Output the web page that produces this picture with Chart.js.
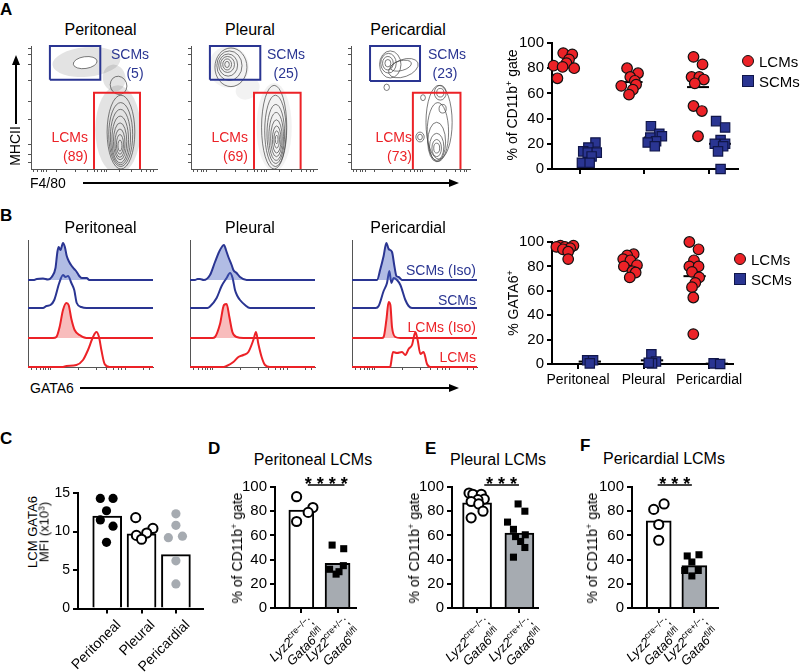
<!DOCTYPE html>
<html>
<head>
<meta charset="utf-8">
<script src="https://cdn.jsdelivr.net/npm/chart.js@4.4.1/dist/chart.umd.min.js"></script>
<style>
body { margin: 0; background: #fff; }
#fig { position: relative; width: 800px; height: 672px; overflow: hidden; background: #fff;
       font-family: "Liberation Sans", Arial, Helvetica, sans-serif; color: #000; }
#fig canvas { position: absolute; }
.t { position: absolute; white-space: nowrap; line-height: 1; }
.t sup { font-size: 65%; vertical-align: 0.5em; line-height: 0; }
.geno { position: absolute; white-space: nowrap; line-height: 15px; font-size: 13px; text-align: right;
        transform-origin: 100% 0; transform: translate(-100%, 0) rotate(-45deg); }
.geno sup { font-size: 9px; vertical-align: 5px; line-height: 0; }
.rot45 { position: absolute; white-space: nowrap; line-height: 1; font-size: 14px;
         transform-origin: 100% 0; transform: translate(-100%, 0) rotate(-45deg); }
.ln { position: absolute; background: #000; }
</style>
</head>
<body>
<div id="fig"></div>
<script>
// ---- données ----
const sites = ['Peritoneal', 'Pleural', 'Pericardial'];

// A : portes (% des CD11b+)
const gateScm = [5, 25, 23];
const gateLcm = [89, 69, 73];

// A : nuage de points, % of CD11b+ gate
const aLcmPerit = [92, 91, 87, 84, 82, 81, 80, 72];
const aLcmPeritX = [0.74, 0.88, 0.83, 0.79, 0.59, 0.73, 0.91, 0.65];
const aLcmPleu = [80, 76, 73, 70, 67, 66, 63, 59];
const aLcmPleuX = [1.73, 1.9, 1.78, 1.85, 1.87, 1.64, 1.82, 1.76];
const aLcmPeri = [89, 83, 73, 73, 71, 68, 50, 46, 26];
const aLcmPeriX = [2.76, 2.9, 2.73, 2.85, 2.92, 2.78, 2.76, 2.89, 2.83];
const aScmPerit = [21, 17, 14, 13, 13, 10, 5, 5];
const aScmPeritX = [1.24, 1.13, 1.05, 1.12, 1.26, 1.18, 1.03, 1.15];
const aScmPleu = [34, 28, 26, 25, 22, 21, 18];
const aScmPleuX = [2.1, 2.23, 2.27, 2.09, 2.18, 2.05, 2.16];
const aScmPeri = [38, 33, 23, 20, 20, 18, 14, 0];
const aScmPeriX = [3.11, 3.25, 3.18, 3.09, 3.25, 3.22, 3.14, 3.18];
const aLcmMean = [83, 69, 65];
const aScmMean = [12, 25, 20];

// B : % GATA6+
const bLcmPerit = [97, 97, 96, 96, 95, 94, 92, 86];
const bLcmPeritX = [0.73, 0.93, 0.8, 0.67, 0.88, 0.77, 0.85, 0.85];
const bLcmPleu = [90, 89, 86, 85, 81, 80, 76, 75, 71];
const bLcmPleuX = [1.85, 1.75, 1.69, 1.8, 1.9, 1.7, 1.83, 1.88, 1.79];
const bLcmPeri = [100, 94, 85, 80, 80, 75.5, 71, 66.5, 63, 54.5, 24.5];
const bLcmPeriX = [2.7, 2.84, 2.77, 2.7, 2.84, 2.74, 2.85, 2.79, 2.74, 2.76, 2.76];
const bScmPerit = [3, 3, 0.5];
const bScmPeritX = [1.14, 1.23, 1.18];
const bScmPleu = [8, 2, 0.5, 1];
const bScmPleuX = [2.12, 2.19, 2.13, 2.08];
const bScmPeri = [0.5, 0];
const bScmPeriX = [3.07, 3.17];
const bLcmMean = [94, 81, 72];
const bScmMean = [2, 3, 0.3];

// B : histogrammes GATA6 [intensité, hauteur]
const hPeritScmIso = [[0,0],[5,0],[7,1],[12,1.5],[16,0.5],[19,3],[22,12],[23.5,28],[24.5,33],[26,30],[28,37],[29.5,33],[31,24],[33,18],[35,14],[37,11],[39,8],[41,4],[43,2],[47,2],[49,0],[100,0]];
const hPeritScm = [[0,0],[12,0],[14.7,2],[18,3],[21,8],[25,25],[28,33],[30,31],[32,32],[34.7,25],[37,18],[39,5],[42.7,1],[46.7,0],[100,0]];
const hPeritLcmIso = [[0,0],[20,0],[22.7,1],[25.3,11],[28,28],[30.7,35],[32.5,33],[34.7,19],[37.3,8],[41.3,3],[46.7,0],[100,0]];
const hPeritLcm = [[0,0],[28,0],[30.7,1],[38.7,2],[44,7],[48,17],[52,30],[54.7,35],[56.8,30],[58.7,17],[61.3,3],[65.3,0],[100,0]];
const hPleuScmIso = [[0,0],[4,0],[6,1],[8,1],[11,0],[16,5],[20,18],[24,30],[27.2,35],[28.8,30],[30.7,23],[33.3,15],[34.7,10],[37.3,7],[40,3],[45.3,0],[100,0]];
const hPleuScm = [[0,0],[14,0],[16,1.5],[21.3,10],[25.3,22],[29.3,30],[32,35],[34.1,30],[36,18],[37.9,12],[40,8],[44,3],[48,0],[100,0]];
const hPleuLcmIso = [[0,0],[18,0],[20,1],[24,14],[27.2,33],[29.3,34],[31.5,21],[33.9,6],[37.3,1],[42.7,0],[100,0]];
const hPleuLcm = [[0,0],[27,0],[29.3,1],[34.7,5],[38.7,10],[42.7,12],[46.7,15],[50.7,27],[52.8,35],[54.7,23],[57.3,10],[60,2],[64,0],[100,0]];
const hPeriScmIso = [[0,0],[20,0],[22.7,11],[25.3,24],[27.5,37],[29.3,31],[32,28],[33.9,14],[35.5,4],[37.3,3],[40,0],[100,0]];
const hPeriScm = [[0,0],[19,0],[21.3,2],[25.3,17],[28,25],[29.9,37],[31.5,25],[33.3,30],[36,28],[38.7,23],[42.7,8],[45.3,2],[48,0],[100,0]];
const hPeriLcmIso = [[0,0],[24,0],[25.3,1],[27.5,18],[29.3,36],[30.7,33],[32,11],[34.7,1],[38.7,0],[100,0]];
const hPeriLcm = [[0,0],[30,0],[30.7,0.7],[32.8,15],[36,14],[40,15],[42.7,12],[45.3,18],[48,22],[50.7,35],[52.5,27],[54.7,13],[57.3,15],[60,3],[62.7,0],[100,0]];

// C : LCM GATA6 MFI (x10^3)
const cMean = [12, 9.7, 7];
const cPerit = [14.3, 14.3, 12.7, 11.5, 10.7, 8.6];
const cPeritX = [0.8, 1.17, 0.98, 0.8, 1.17, 0.98];
const cPleu = [11.8, 10.4, 9.8, 9.5, 9.0];
const cPleuX = [1.83, 2.33, 2.15, 1.85, 2.0];
const cPeri = [12.3, 10.8, 9.4, 9.2, 6.2, 3.2];
const cPeriX = [3.0, 3.0, 3.19, 2.78, 3.0, 3.0];

// D, E, F : % of CD11b+ gate (Lyz2cre-/- vs Lyz2cre+/-)
const dMean = [81, 37];
const dWt = [92, 83, 79, 71.5];
const dWtX = [0.87, 1.32, 1.19, 0.87];
const dKo = [52, 49, 35, 32, 30, 28];
const dKoX = [1.85, 2.17, 2.16, 1.78, 2.04, 1.96];
const eMean = [87, 62];
const eWt = [95, 94, 94, 90, 89.5, 88, 86, 80, 74.5];
const eWtX = [0.81, 0.9, 1.1, 1.17, 1.02, 0.86, 1.04, 1.14, 0.86];
const eKo = [86, 80, 71, 65, 60.5, 59, 55, 50, 42];
const eKoX = [1.97, 2.13, 1.72, 1.86, 2.14, 1.91, 2.03, 2.13, 1.86];
const fMean = [72, 35];
const fWt = [86, 81.5, 69, 56];
const fWtX = [1.15, 0.86, 1.0, 1.0];
const fKo = [44, 43, 38, 31, 31, 26.5];
const fKoX = [2.13, 1.8, 1.93, 1.73, 2.11, 1.93];

// graduations
const pctTicks = [0, 20, 40, 60, 80, 100];
const mfiTicks = [0, 5, 10, 15];
const flowXTicks = [2, 5, 8, 10, 12, 20, 35, 45, 50, 53, 56, 58, 60, 70, 80, 88, 92, 95, 97];
const flowYTicks = [5, 12, 20, 40, 55, 72, 85, 93, 98];
const histXTicks = [3, 7, 10, 12, 14, 16, 18, 40, 55, 63, 68, 72, 75, 78, 92, 97];

// contours des cytogrammes [cx, cy, rx, ry, rotation]
const flowCloudsPerit = [[44, 87, 27, 12, -5], [66, 74, 9, 11, -10], [69, 32, 18, 36, 0]];
const flowWhitePerit = [[43, 86.5, 9.5, 4.8, -8]];
const flowRingsPerit = [[69.5, 68, 6.5, 7.5, -20], [71.4, 30, 11, 30, 0], [71.2, 28, 9.5, 26, 0], [71, 26, 8, 22.5, 0],
  [70.8, 24, 6.6, 19, 0], [70.7, 22.5, 5.3, 15, 0], [70.6, 21, 4, 11.5, 0], [70.6, 20, 2.8, 8, 0], [70.6, 19, 1.6, 4.5, 0]];
const flowCloudsPleu = [[30, 83, 16, 17, 0], [66, 34, 14, 36, 0], [45, 65, 10, 8, -30]];
const flowRingsPleu = [[31.7, 82.7, 12.7, 15.7, 0], [30.5, 84, 10, 12, 0], [29.5, 84.5, 7.5, 9, 0], [29, 85, 5.5, 6.5, 0],
  [28.7, 85, 3.5, 4.5, 0], [28.6, 85, 1.8, 2.5, 0], [66, 34, 10, 34, 0], [67, 31, 8.5, 29, 0], [67.3, 28.5, 7, 24, 0],
  [67.6, 26.5, 5.8, 19.5, 0], [67.8, 25, 4.6, 15, 0], [68, 24, 3.4, 11, 0], [68, 24, 2.2, 7, 0], [68, 24, 1.1, 3.5, 0]];
const flowRingsPeri = [[33, 85, 9, 11, 0], [31.5, 86, 6.5, 8, 0], [31, 86, 4.5, 5.5, 0], [31, 86, 2.5, 3, 0],
  [44, 82, 13, 7, -20], [42, 84, 9, 4, -15], [30, 66.4, 2.3, 2.6, 0], [60.5, 58, 2, 2.4, 0],
  [74, 38, 11, 30, 0], [73, 30, 9, 24, 0], [72, 22, 7.5, 16, 0], [72, 18, 6, 11, 0], [72, 17, 4, 7, 0], [72, 17, 2.5, 4, 0],
  [75, 62, 5, 6, 0], [75, 62, 3, 3.5, 0], [77, 49, 3, 3.5, 0], [58, 26, 3.5, 4, 0], [58, 26, 2, 2.3, 0]];
// portes [x1, x2, y1, y2]
const gateBoxScm = [[15, 55, 72.5, 100], [15, 55, 72.5, 100], [16, 58, 71.5, 100]];
const gateBoxLcm = [[50, 86.5, 0, 62], [50, 87, 0, 62], [52, 92, 0, 62]];

// ---- mise en page ----
const FONT = '"Liberation Sans", Arial, Helvetica, sans-serif';
const BLUE = '#2a3592';
const RED = '#ec2227';
const GREY = '#a6abb1';
Chart.defaults.font.family = FONT;
Chart.defaults.color = '#000';
const fig = document.getElementById('fig');

function txt(x, y, html, o = {}) {
    const d = document.createElement('div');
    d.className = 't';
    d.innerHTML = html;
    d.style.left = x + 'px';
    d.style.top = y + 'px';
    d.style.fontSize = (o.size || 14) + 'px';
    if (o.color) d.style.color = o.color;
    if (o.bold) d.style.fontWeight = 'bold';
    const ax = o.align === 'left' ? '0' : o.align === 'right' ? '-100%' : '-50%';
    d.style.transform = `translate(${ax},-50%)` + (o.rot ? ` rotate(${o.rot}deg)` : '');
    fig.appendChild(d);
}

function box(x, y, w, h) {
    const d = document.createElement('div');
    d.className = 'ln';
    Object.assign(d.style, { left: x + 'px', top: y + 'px', width: w + 'px', height: h + 'px' });
    fig.appendChild(d);
    return d;
}

function arrowRight(x1, x2, y) {
    box(x1, y - 1, x2 - x1 - 8, 2);
    const h = box(x2 - 10, y - 4.5, 0, 0);
    Object.assign(h.style, { background: 'none', borderTop: '4.5px solid transparent', borderBottom: '4.5px solid transparent', borderLeft: '10px solid #000' });
}

function arrowUp(x, y1, y2) {
    box(x - 1, y2 + 8, 2, y1 - y2 - 8);
    const h = box(x - 4.5, y2, 0, 0);
    Object.assign(h.style, { background: 'none', borderLeft: '4.5px solid transparent', borderRight: '4.5px solid transparent', borderBottom: '10px solid #000' });
}

function chartAt(pos, area, config) {
    const [L, T, W, H] = pos;
    const cv = document.createElement('canvas');
    cv.width = W; cv.height = H;
    cv.style.left = L + 'px';
    cv.style.top = T + 'px';
    fig.appendChild(cv);
    const o = config.options;
    o.responsive = false;
    o.animation = false;
    o.layout = { padding: { left: 0, top: area[1] - T, right: L + W - area[2], bottom: 0 } };
    o.scales.x.afterFit = s => { s.height = T + H - area[3]; };
    o.scales.y.afterFit = s => { s.width = area[0] - L; };
    o.plugins = Object.assign({ legend: { display: false }, tooltip: { enabled: false } }, o.plugins || {});
    return new Chart(cv, config);
}

function ellipse(ctx, x, y, e) {
    const cx = x.getPixelForValue(e[0]), cy = y.getPixelForValue(e[1]);
    const rx = Math.abs(x.getPixelForValue(e[0] + e[2]) - cx);
    const ry = Math.abs(y.getPixelForValue(e[1] + e[3]) - cy);
    ctx.beginPath();
    ctx.ellipse(cx, cy, rx, ry, (e[4] || 0) * Math.PI / 180, 0, 2 * Math.PI);
}

// contours des cytogrammes
const flowPlugin = {
    id: 'flow',
    beforeDatasetsDraw(chart, args, o) {
        const { ctx, chartArea: a, scales: { x, y } } = chart;
        ctx.save();
        ctx.beginPath();
        ctx.rect(a.left, a.top, a.right - a.left, a.bottom - a.top);
        ctx.clip();
        ctx.fillStyle = o.cloudColor;
        (o.clouds || []).forEach(e => { ellipse(ctx, x, y, e); ctx.fill(); });
        ctx.strokeStyle = '#444';
        ctx.lineWidth = 0.7;
        (o.whites || []).forEach(e => { ellipse(ctx, x, y, e); ctx.fillStyle = '#fff'; ctx.fill(); ctx.stroke(); });
        (o.rings || []).forEach(e => { ellipse(ctx, x, y, e); ctx.stroke(); });
        ctx.restore();
    }
};

// traits de moyenne
const meanPlugin = {
    id: 'means',
    beforeDatasetsDraw(chart, args, o) {
        const { ctx, scales: { x, y } } = chart;
        ctx.save();
        ctx.strokeStyle = '#000';
        ctx.lineWidth = 2;
        o.items.forEach(m => {
            const py = y.getPixelForValue(m.y);
            ctx.beginPath();
            ctx.moveTo(x.getPixelForValue(m.x - 0.17), py);
            ctx.lineTo(x.getPixelForValue(m.x + 0.17), py);
            ctx.stroke();
        });
        ctx.restore();
    }
};

// barre de significativité
const sigPlugin = {
    id: 'sig',
    afterDraw(chart, args, o) {
        const { ctx, scales: { x, y } } = chart;
        const py = y.getPixelForValue(o.y);
        const x1 = x.getPixelForValue(o.x1), x2 = x.getPixelForValue(o.x2);
        ctx.save();
        ctx.strokeStyle = '#000';
        ctx.lineWidth = 1.5;
        ctx.beginPath();
        ctx.moveTo(x1, py);
        ctx.lineTo(x2, py);
        ctx.stroke();
        ctx.font = 'bold 18px ' + FONT;
        ctx.fillStyle = '#000';
        ctx.textAlign = 'center';
        ctx.fillText(o.stars, (x1 + x2) / 2, py + 5);
        ctx.restore();
    }
};

function thinAxis(ticks, tickLen) {
    return {
        type: 'linear', min: 0, max: 100,
        afterBuildTicks: s => { s.ticks = ticks.map(v => ({ value: v })); },
        ticks: { display: false },
        grid: { drawOnChartArea: false, drawTicks: tickLen > 0, tickLength: tickLen, color: '#555', lineWidth: 1 },
        border: { color: '#555', width: 1 }
    };
}

function boldAxis(min, max, ticks, labels, size) {
    return {
        type: 'linear', min: min, max: max, offset: false,
        afterBuildTicks: s => { s.ticks = ticks.map(v => ({ value: v })); },
        ticks: {
            font: { size: size }, color: '#000', padding: 3, autoSkip: false, maxRotation: 0,
            callback: (v, i) => labels ? labels[i] : v
        },
        grid: { drawOnChartArea: false, offset: false, tickLength: 5, color: '#000', lineWidth: 2 },
        border: { color: '#000', width: 2 }
    };
}

function pts(vals, xs) { return vals.map((v, i) => ({ x: xs[i], y: v })); }

// ---- A : cytogrammes ----
const flowBoxes = [[20, 40, 145, 135], [180, 40, 145, 135], [340, 40, 140, 135]];
const flowAreas = [[31, 46, 157, 169], [191, 46, 317, 169], [351, 46, 470, 169]];
const flowShapes = [
    { clouds: flowCloudsPerit, whites: flowWhitePerit, rings: flowRingsPerit, cloudColor: 'rgba(0,0,0,0.11)' },
    { clouds: flowCloudsPleu, whites: [], rings: flowRingsPleu, cloudColor: 'rgba(0,0,0,0.05)' },
    { clouds: [], whites: [], rings: flowRingsPeri, cloudColor: 'rgba(0,0,0,0)' }
];
sites.forEach((s, k) => {
    const gs = gateBoxScm[k], gl = gateBoxLcm[k];
    chartAt(flowBoxes[k], flowAreas[k], {
        type: 'scatter',
        data: {
            datasets: [
                { data: [{ x: gs[0], y: gs[2] }, { x: gs[0], y: gs[3] }, { x: gs[1], y: gs[3] }, { x: gs[1], y: gs[2] }, { x: gs[0], y: gs[2] }],
                  showLine: true, borderColor: BLUE, borderWidth: 2, pointRadius: 0, clip: false, tension: 0 },
                { data: [{ x: gl[0], y: gl[2] }, { x: gl[0], y: gl[3] }, { x: gl[1], y: gl[3] }, { x: gl[1], y: gl[2] }],
                  showLine: true, borderColor: RED, borderWidth: 2, pointRadius: 0, clip: false, tension: 0 }
            ]
        },
        options: {
            scales: { x: thinAxis(flowXTicks, 3), y: thinAxis(flowYTicks, 3) },
            plugins: { flow: flowShapes[k] }
        },
        plugins: [flowPlugin]
    });
});

// ---- A et B : nuages de points ----
function dotChart(pos, area, xr, lcm, scm, lcmMean, scmMean, labels, lcmC, scmC) {
    chartAt(pos, area, {
        type: 'scatter',
        data: {
            datasets: [
                { data: lcm, pointStyle: 'circle', pointRadius: 5.3, backgroundColor: RED, borderColor: '#111', borderWidth: 1.2, clip: false },
                { data: scm, pointStyle: 'rect', pointRadius: 6.6, backgroundColor: BLUE, borderColor: '#10164a', borderWidth: 1.2, clip: false }
            ]
        },
        options: {
            scales: {
                x: boldAxis(xr[0], xr[1], [1, 2, 3], labels, 14),
                y: boldAxis(0, 100, pctTicks, null, 15)
            },
            plugins: {
                means: { items: lcmMean.map((m, i) => ({ x: lcmC[i], y: m })).concat(scmMean.map((m, i) => ({ x: scmC[i], y: m }))) }
            }
        },
        plugins: [meanPlugin]
    });
}

dotChart([500, 28, 262, 167], [552, 43, 738, 169], [0.566, 3.45],
    pts(aLcmPerit, aLcmPeritX).concat(pts(aLcmPleu, aLcmPleuX), pts(aLcmPeri, aLcmPeriX)),
    pts(aScmPerit, aScmPeritX).concat(pts(aScmPleu, aScmPleuX), pts(aScmPeri, aScmPeriX)),
    aLcmMean, aScmMean, ['', '', ''], [0.78, 1.8, 2.83], [1.15, 2.16, 3.17]);

dotChart([500, 226, 262, 172], [552, 242, 733, 364], [0.603, 3.366],
    pts(bLcmPerit, bLcmPeritX).concat(pts(bLcmPleu, bLcmPleuX), pts(bLcmPeri, bLcmPeriX)),
    pts(bScmPerit, bScmPeritX).concat(pts(bScmPleu, bScmPleuX), pts(bScmPeri, bScmPeriX)),
    bLcmMean, bScmMean, sites, [0.82, 1.8, 2.78], [1.18, 2.13, 3.12]);

// ---- B : histogrammes ----
const histOffsets = [87, 59, 29, 0];
const histSets = [
    [hPeritScmIso, hPeritScm, hPeritLcmIso, hPeritLcm],
    [hPleuScmIso, hPleuScm, hPleuLcmIso, hPleuLcm],
    [hPeriScmIso, hPeriScm, hPeriLcmIso, hPeriLcm]
];
const histColors = [BLUE, BLUE, RED, RED];
const histFills = ['rgba(70,95,190,0.42)', null, 'rgba(236,80,80,0.38)', null];
const histBoxes = [[20, 232, 145, 145], [182, 232, 145, 145], [344, 232, 145, 145]];
const histAreas = [[28, 240, 153, 367], [190, 240, 315, 367], [352, 240, 477, 367]];
histSets.forEach((set, k) => {
    chartAt(histBoxes[k], histAreas[k], {
        type: 'scatter',
        data: {
            datasets: set.map((tr, j) => ({
                data: tr.map(p => ({ x: p[0], y: p[1] + histOffsets[j] })),
                showLine: true, pointRadius: 0, borderColor: histColors[j], borderWidth: 2,
                cubicInterpolationMode: 'monotone', clip: false,
                fill: histFills[j] ? { value: histOffsets[j] } : false,
                backgroundColor: histFills[j] || 'transparent'
            }))
        },
        options: {
            scales: {
                x: thinAxis(histXTicks, 3),
                y: Object.assign(thinAxis([], 0), { max: 127 })
            }
        }
    });
});

// ---- C à F : barres ----
function barChart(pos, area, xr, yMax, yTicks, means, barW, sets, sig) {
    const cfg = {
        type: 'bar',
        data: {
            datasets: [{
                type: 'bar', data: means.map((m, i) => ({ x: i + 1, y: m.v })),
                backgroundColor: means.map(m => m.fill), borderColor: '#000', borderWidth: 2,
                barThickness: barW, order: 2
            }].concat(sets.map(s => Object.assign({ type: 'scatter', order: 1, clip: false }, s)))
        },
        options: {
            scales: {
                x: boldAxis(xr[0], xr[1], means.map((m, i) => i + 1), means.map(() => ''), 14),
                y: boldAxis(0, yMax, yTicks, null, yMax === 15 ? 14 : 15)
            },
            plugins: sig ? { sig: sig } : {}
        },
        plugins: sig ? [sigPlugin] : []
    };
    chartAt(pos, area, cfg);
}

const wtStyle = { pointStyle: 'circle', pointRadius: 4.6, backgroundColor: '#fff', borderColor: '#000', borderWidth: 2 };
const koStyle = { pointStyle: 'rect', pointRadius: 5, backgroundColor: '#000', borderColor: '#000', borderWidth: 0 };

barChart([48, 478, 162, 142], [78, 493, 205, 612], [0.15, 3.8], 15, mfiTicks,
    cMean.map(v => ({ v: v, fill: '#fff' })), 29, [
        { data: pts(cPerit, cPeritX), pointStyle: 'circle', pointRadius: 4.6, backgroundColor: '#000', borderColor: '#000', borderWidth: 0 },
        Object.assign({ data: pts(cPleu, cPleuX) }, wtStyle),
        { data: pts(cPeri, cPeriX), pointStyle: 'circle', pointRadius: 4.6, backgroundColor: GREY, borderColor: GREY, borderWidth: 0 }
    ], null);

barChart([238, 468, 125, 152], [275, 487, 357, 612], [0.274, 2.52], 100, pctTicks,
    [{ v: dMean[0], fill: '#fff' }, { v: dMean[1], fill: GREY }], 25, [
        Object.assign({ data: pts(dWt, dWtX) }, wtStyle),
        Object.assign({ data: pts(dKo, dKoX) }, koStyle)
    ], { x1: 1.18, x2: 2.19, y: 101.6, stars: '* * * *' });

barChart([415, 468, 130, 152], [452, 487, 540, 612], [0.407, 2.45], 100, pctTicks,
    [{ v: eMean[0], fill: '#fff' }, { v: eMean[1], fill: GREY }], 29, [
        Object.assign({ data: pts(eWt, eWtX) }, wtStyle),
        Object.assign({ data: pts(eKo, eKoX) }, koStyle)
    ], { x1: 1.17, x2: 1.99, y: 101.6, stars: '* * *' });

barChart([595, 468, 130, 152], [632, 487, 720, 612], [0.25, 2.675], 100, pctTicks,
    [{ v: fMean[0], fill: '#fff' }, { v: fMean[1], fill: GREY }], 25, [
        Object.assign({ data: pts(fWt, fWtX) }, wtStyle),
        Object.assign({ data: pts(fKo, fKoX) }, koStyle)
    ], { x1: 0.97, x2: 1.93, y: 101.6, stars: '* * *' });

// ---- textes ----
txt(0, 9, 'A', { align: 'left', size: 17, bold: true });
txt(0, 215, 'B', { align: 'left', size: 17, bold: true });
txt(0, 438, 'C', { align: 'left', size: 17, bold: true });
txt(208, 448, 'D', { align: 'left', size: 17, bold: true });
txt(425, 448, 'E', { align: 'left', size: 17, bold: true });
txt(580, 445, 'F', { align: 'left', size: 17, bold: true });

[100.5, 250, 408].forEach((x, k) => {
    txt(x, 30, sites[k], { size: 16 });
    txt(x, 228, sites[k], { size: 16 });
});

// étiquettes des portes
const scmLbl = [[130, 135], [286, 286], [447, 445]];
const lcmLbl = [88, 248, 412];
sites.forEach((s, k) => {
    txt(scmLbl[k][0], 54, 'SCMs', { size: 14, color: BLUE });
    txt(scmLbl[k][1], 73, '(' + gateScm[k] + ')', { size: 14, color: BLUE });
    txt(lcmLbl[k], 137, 'LCMs', { size: 14, color: RED, align: 'right' });
    txt(lcmLbl[k], 156, '(' + gateLcm[k] + ')', { size: 14, color: RED, align: 'right' });
});

// axes des cytogrammes et histogrammes
txt(15, 146, 'MHCII', { size: 14, rot: -90 });
arrowUp(16, 124, 55);
txt(30, 183, 'F4/80', { size: 14, align: 'left' });
arrowRight(83, 459, 183);
txt(30, 388, 'GATA6', { size: 14, align: 'left' });
arrowRight(80, 459, 388);

txt(476, 270, 'SCMs (Iso)', { size: 14, color: BLUE, align: 'right' });
txt(476, 300, 'SCMs', { size: 14, color: BLUE, align: 'right' });
txt(476, 327, 'LCMs (Iso)', { size: 14, color: RED, align: 'right' });
txt(476, 357, 'LCMs', { size: 14, color: RED, align: 'right' });

// titres des axes y
txt(512, 105, '% of CD11b<sup>+</sup> gate', { size: 14, rot: -90 });
txt(513, 303, '% GATA6<sup>+</sup>', { size: 14, rot: -90 });
txt(32, 532, 'LCM GATA6', { size: 13, rot: -90 });
txt(44, 532, 'MFI (x10<sup>3</sup>)', { size: 13, rot: -90 });
txt(237, 548, '% of CD11b<sup>+</sup> gate', { size: 14, rot: -90 });
txt(414, 548, '% of CD11b<sup>+</sup> gate', { size: 14, rot: -90 });
txt(592, 548, '% of CD11b<sup>+</sup> gate', { size: 14, rot: -90 });

// légendes
function legendItem(x, y, square, fill, border, label) {
    const m = document.createElement('div');
    Object.assign(m.style, {
        position: 'absolute', left: (x - 6) + 'px', top: (y - 6) + 'px', width: '12px', height: '12px',
        boxSizing: 'border-box', background: fill, border: '1.3px solid ' + border, borderRadius: square ? '0' : '50%'
    });
    fig.appendChild(m);
    txt(x + 11, y, label, { size: 15, align: 'left' });
}
legendItem(748, 61, false, RED, '#111', 'LCMs');
legendItem(748, 81, true, BLUE, '#10164a', 'SCMs');
legendItem(740, 259, false, RED, '#111', 'LCMs');
legendItem(740, 279, true, BLUE, '#10164a', 'SCMs');

// titres C à F
txt(313, 460, 'Peritoneal LCMs', { size: 16 });
txt(498, 460, 'Pleural LCMs', { size: 16 });
txt(664, 459, 'Pericardial LCMs', { size: 16 });

// étiquettes inclinées
function rot45(x, y, html, cls) {
    const d = document.createElement('div');
    d.className = cls;
    d.innerHTML = html;
    d.style.left = x + 'px';
    d.style.top = y + 'px';
    fig.appendChild(d);
}
[107.5, 142, 177].forEach((x, k) => rot45(x + 5, 617, sites[k], 'rot45'));
const genotypes = ['<i>Lyz2</i><sup>cre−/−</sup>;<br><i>Gata6</i><sup>fl/fl</sup>', '<i>Lyz2</i><sup>cre+/−</sup>;<br><i>Gata6</i><sup>fl/fl</sup>'];
[[301.5, 338], [477.5, 520.5], [659, 695.5]].forEach(pair => {
    pair.forEach((x, k) => rot45(x + 4, 614, genotypes[k], 'geno'));
});
</script>
</body>
</html>
